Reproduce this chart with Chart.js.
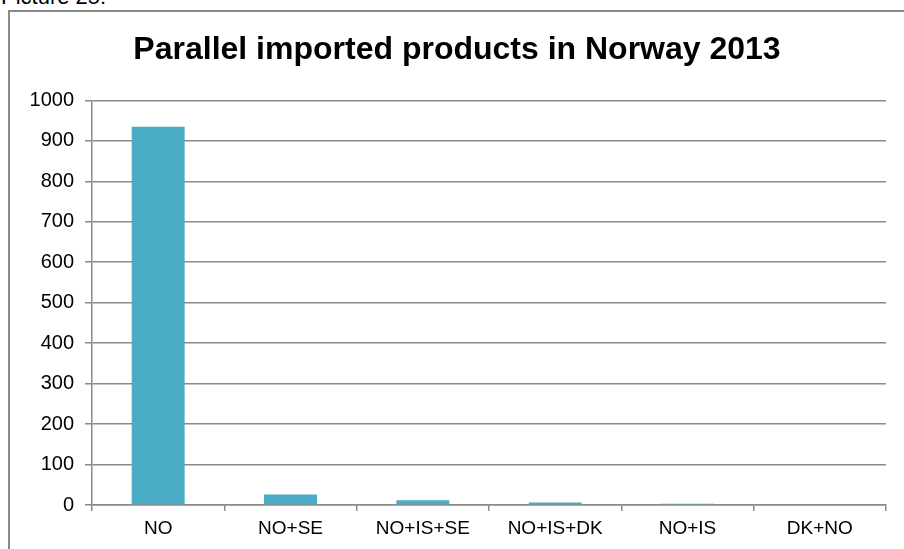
<!DOCTYPE html>
<html>
<head>
<meta charset="utf-8">
<script src="https://cdn.jsdelivr.net/npm/chart.js@4"></script>
<style>
  html, body { margin: 0; padding: 0; background: #fff; overflow: hidden; }
  #caption {
    position: absolute; left: 1px; top: -16px;
    font: 22px "Liberation Sans", Arial, sans-serif; color: #000;
    line-height: 26px; white-space: nowrap;
  }
  #frame {
    position: absolute; left: 8px; top: 10px; width: 960px; height: 600px;
    border: 2px solid #8a8a8a; box-sizing: border-box;
  }
  #wrap { position: absolute; left: 0; top: 0; width: 904px; height: 549px; }
</style>
</head>
<body>
<div id="caption">Picture 25:</div>
<div id="frame"></div>
<div id="wrap"><canvas id="chart-canvas"></canvas></div>
<script>
"use strict";
const chartTitle = "Parallel imported products in Norway 2013";
const categories = ["NO", "NO+SE", "NO+IS+SE", "NO+IS+DK", "NO+IS", "DK+NO"];
const productCounts = [935, 26, 12, 6, 3, 2];
const yTicks = [0, 100, 200, 300, 400, 500, 600, 700, 800, 900, 1000];

const fontFamily = '"Liberation Sans", Arial, sans-serif';
const gridColor = "#8a8a8a";

function createChart() {
    let ctx = document.getElementById("chart-canvas").getContext("2d");
    new Chart(ctx, {
        type: "bar",
        data: {
            labels: categories,
            datasets: [
                {
                    label: "Products",
                    data: productCounts,
                    backgroundColor: "#4bacc6",
                    barPercentage: 0.4,
                    categoryPercentage: 1.0,
                },
            ],
        },
        options: {
            responsive: true,
            maintainAspectRatio: false,
            animation: false,
            layout: { padding: { left: 28, right: 18, top: 0, bottom: 0 } },
            plugins: {
                legend: { display: false },
                tooltip: { enabled: false },
                title: {
                    display: true,
                    text: chartTitle,
                    color: "#000",
                    font: { family: fontFamily, size: 32, weight: "bold", lineHeight: 1.2 },
                    padding: { top: 31, bottom: 31 },
                },
            },
            scales: {
                x: {
                    grid: {
                        offset: true,
                        drawOnChartArea: false,
                        drawTicks: true,
                        tickLength: 6,
                        color: gridColor,
                        lineWidth: 1.5,
                    },
                    border: { color: gridColor, width: 1.5 },
                    ticks: {
                        color: "#000",
                        font: { family: fontFamily, size: 19 },
                        padding: 6,
                        maxRotation: 0,
                    },
                    afterFit: scale => { scale.height = 44; },
                },
                y: {
                    min: 0,
                    max: 1000,
                    afterBuildTicks: scale => { scale.ticks = yTicks.map(v => ({ value: v })); },
                    grid: {
                        color: gridColor,
                        lineWidth: 1.5,
                        tickLength: 7,
                    },
                    border: { color: gridColor, width: 1.5 },
                    ticks: {
                        color: "#000",
                        font: { family: fontFamily, size: 20 },
                        padding: 11,
                        callback: value => String(value),
                    },
                    afterFit: scale => { scale.width = 64; },
                },
            },
        },
    });
}
document.addEventListener("DOMContentLoaded", createChart);
</script>
</body>
</html>
